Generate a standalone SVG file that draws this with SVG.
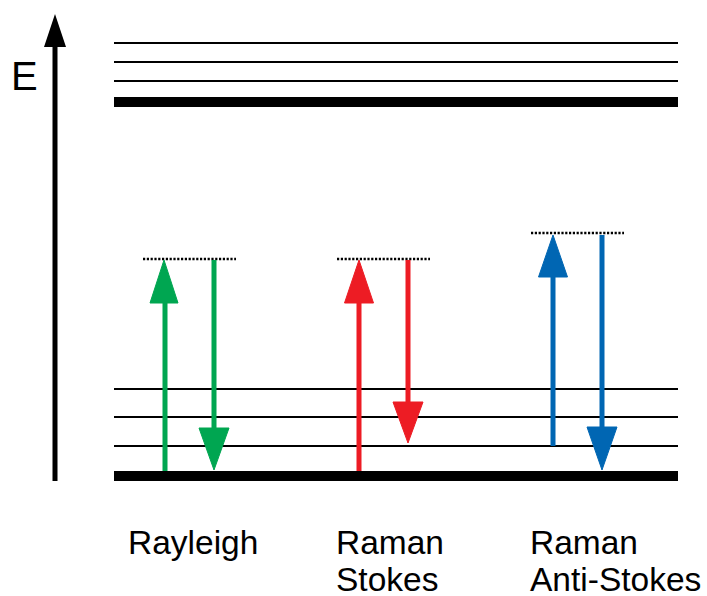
<svg xmlns="http://www.w3.org/2000/svg" width="707" height="596" viewBox="0 0 707 596">
<style>
.lvl{stroke:#000;stroke-width:2.2;fill:none}
.lvlb{stroke:#000;stroke-width:10;fill:none}
.dot{stroke:#000;stroke-width:2.4;stroke-dasharray:2.2 1.6;fill:none}
.lbl{font-family:"Liberation Sans",Arial,sans-serif;font-size:33.5px;fill:#000}
.g{stroke:#00a651;fill:#00a651}
.r{stroke:#ed1c24;fill:#ed1c24}
.b{stroke:#0066b3;fill:#0066b3}
.sh{stroke-width:5;fill:none}
</style>
<rect width="707" height="596" fill="#fff"/>
<g id="axis">
<line x1="55" y1="481" x2="55" y2="40" stroke="#000" stroke-width="5"/>
<polygon points="55,14 44,47 66,47" fill="#000"/>
<text class="lbl" x="11" y="90" style="font-size:40px">E</text>
</g>
<g id="levels">
<line class="lvl" x1="114" y1="43" x2="678" y2="43"/>
<line class="lvl" x1="114" y1="62" x2="678" y2="62"/>
<line class="lvl" x1="114" y1="81" x2="678" y2="81"/>
<line class="lvlb" x1="114" y1="102" x2="678" y2="102"/>
<line class="lvl" x1="114" y1="389" x2="678" y2="389"/>
<line class="lvl" x1="114" y1="417" x2="678" y2="417"/>
<line class="lvl" x1="114" y1="446" x2="678" y2="446"/>
<line class="lvlb" x1="114" y1="476" x2="678" y2="476"/>
</g>
<g id="virtual">
<line class="dot" x1="143" y1="259" x2="236" y2="259"/>
<line class="dot" x1="337" y1="259" x2="430" y2="259"/>
<line class="dot" x1="531" y1="233" x2="624" y2="233"/>
</g>
<g id="connectors">
<g id="rayleigh-arrows">
<line class="g sh" x1="165" y1="471" x2="165" y2="300"/>
<polygon class="g" stroke="none" points="164,260 150,303 178,303"/>
<line class="g sh" x1="214" y1="260" x2="214" y2="430"/>
<polygon class="g" stroke="none" points="214,470 199,428 229,428"/>
</g>
<g id="stokes-arrows">
<line class="r sh" x1="359" y1="471" x2="359" y2="300"/>
<polygon class="r" stroke="none" points="359,260 344.5,303 373.5,303"/>
<line class="r sh" x1="408" y1="260" x2="408" y2="404"/>
<polygon class="r" stroke="none" points="408,443 393,402 423,402"/>
</g>
<g id="antistokes-arrows">
<line class="b sh" x1="553" y1="446" x2="553" y2="274"/>
<polygon class="b" stroke="none" points="553,235 538.5,277 567.5,277"/>
<line class="b sh" x1="602" y1="235" x2="602" y2="430"/>
<polygon class="b" stroke="none" points="602,470 587,427 617,427"/>
</g>
</g>
<g id="labels">
<text class="lbl" x="128" y="554">Rayleigh</text>
<text class="lbl" x="336" y="554">Raman</text>
<text class="lbl" x="336" y="591">Stokes</text>
<text class="lbl" x="530" y="554">Raman</text>
<text class="lbl" x="530" y="591">Anti-Stokes</text>
</g>
</svg>
